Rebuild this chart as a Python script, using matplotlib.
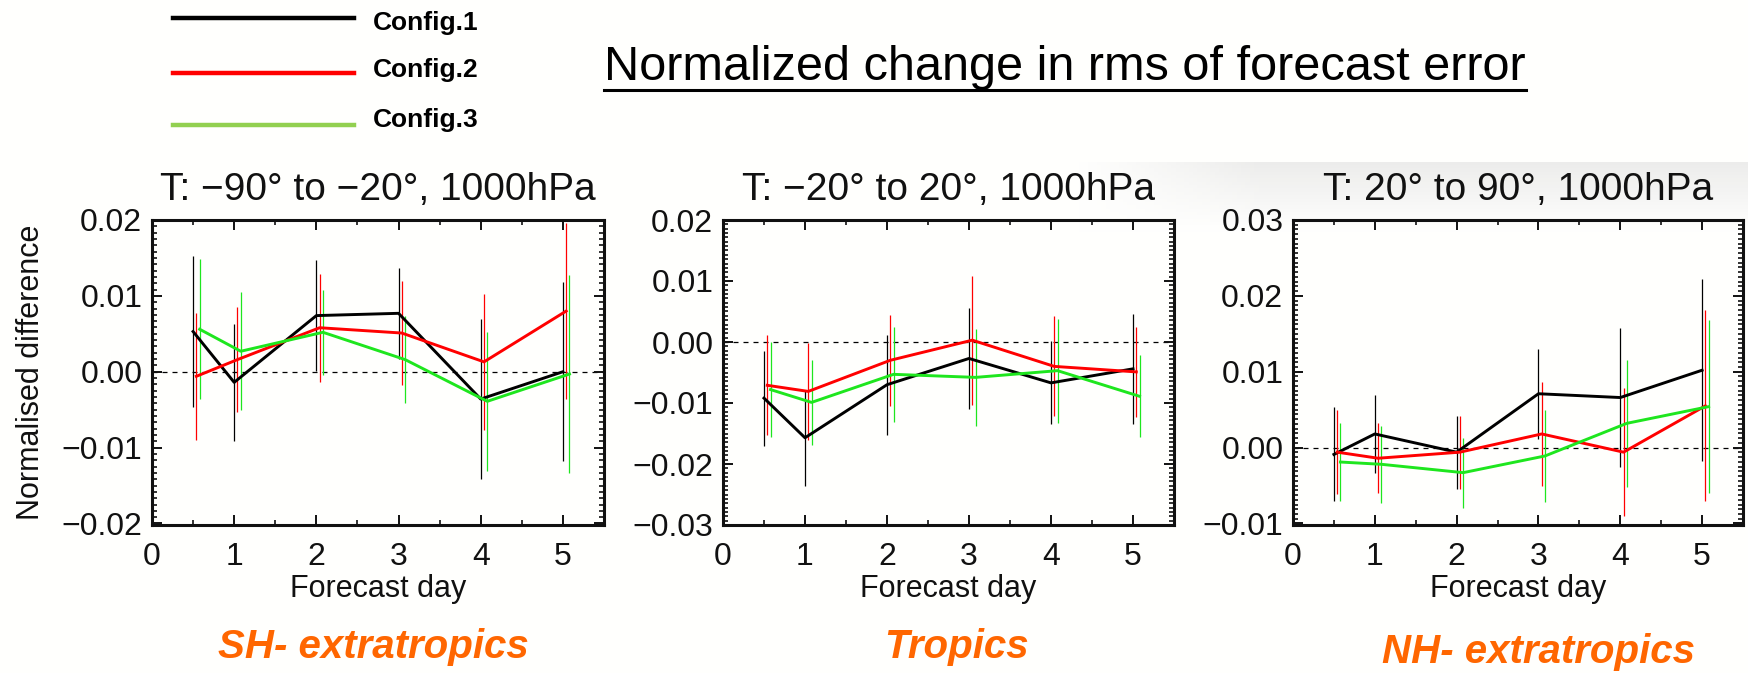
import numpy as np
import matplotlib
matplotlib.use("Agg")
import matplotlib.pyplot as plt
from matplotlib.lines import Line2D
from matplotlib.ticker import MultipleLocator, AutoMinorLocator, FuncFormatter

plt.rcParams['font.family'] = ['Liberation Sans', 'DejaVu Sans']

W, H = 1748, 673

days = [0.5, 1, 2, 3, 4, 5]

# SH extratropics
sh_c1 = [0.0053, -0.0014, 0.0074, 0.0077, -0.0036, 0.0000]
sh_e1 = [0.0100, 0.0077, 0.0073, 0.0060, 0.0105, 0.0118]
sh_c2 = [-0.0006, 0.0016, 0.0058, 0.0051, 0.0013, 0.0080]
sh_e2 = [0.0084, 0.0069, 0.0071, 0.0068, 0.0090, 0.0116]
sh_c3 = [0.0056, 0.0027, 0.0052, 0.0016, -0.0039, -0.0003]
sh_e3 = [0.0092, 0.0078, 0.0056, 0.0057, 0.0092, 0.0130]

# tropics
tr_c1 = [-0.0092, -0.0157, -0.0070, -0.0027, -0.0067, -0.0044]
tr_e1 = [0.0078, 0.0079, 0.0082, 0.0083, 0.0068, 0.0090]
tr_c2 = [-0.0071, -0.0081, -0.0030, 0.0003, -0.0040, -0.0049]
tr_e2 = [0.0082, 0.0080, 0.0075, 0.0106, 0.0082, 0.0074]
tr_c3 = [-0.0078, -0.0099, -0.0053, -0.0058, -0.0047, -0.0089]
tr_e3 = [0.0078, 0.0070, 0.0078, 0.0080, 0.0085, 0.0067]

# NH extratropics
nh_c1 = [-0.0009, 0.0018, -0.0006, 0.0071, 0.0066, 0.0102]
nh_e1 = [0.0062, 0.0051, 0.0048, 0.0059, 0.0092, 0.0120]
nh_c2 = [-0.0006, -0.0014, -0.0006, 0.0018, -0.0006, 0.0055]
nh_e2 = [0.0055, 0.0046, 0.0048, 0.0068, 0.0084, 0.0126]
nh_c3 = [-0.0019, -0.0022, -0.0033, -0.0011, 0.0032, 0.0054]
nh_e3 = [0.0051, 0.0051, 0.0046, 0.0061, 0.0084, 0.0114]

configs = ['Config.1', 'Config.2', 'Config.3']
line_colors = ['black', '#ff0000', '#1ee61e']
legend_colors = ['black', '#ff0000', '#92d050']
offsets = [0.0, 0.04, 0.08]

panel_titles = ['T: \u221290\u00b0 to \u221220\u00b0, 1000hPa',
                'T: \u221220\u00b0 to 20\u00b0, 1000hPa',
                'T: 20\u00b0 to 90\u00b0, 1000hPa']
region_names = ['SH- extratropics', 'Tropics', 'NH- extratropics']
ylims = [(-0.0202, 0.02), (-0.03, 0.02), (-0.0102, 0.03)]
minor_n = [12, 14, 16]

panels = [
    [(sh_c1, sh_e1), (sh_c2, sh_e2), (sh_c3, sh_e3)],
    [(tr_c1, tr_e1), (tr_c2, tr_e2), (tr_c3, tr_e3)],
    [(nh_c1, nh_e1), (nh_c2, nh_e2), (nh_c3, nh_e3)],
]


def fx(x):
    return x / W


def fy(y):
    return 1 - y / H


def fmt(v, pos):
    s = f'{v:.2f}'
    if s == '-0.00':
        s = '0.00'
    return s.replace('-', '\u2212')


fig = plt.figure(figsize=(W / 100, H / 100), dpi=100)

# faint grey band of the slide background, top right
bg = fig.add_axes([0, 0, 1, 1], zorder=-10)
bg.axis('off')
xx = np.linspace(0, W, 400)
yy = np.linspace(0, H, 200)
gx = np.clip((xx - 1080) / 180, 0, 1)
gy = np.where(yy < 160, 0, np.clip(1 - (yy - 160) / 70, 0, 1))
shade = 1 - 0.075 * np.outer(gy, gx)
img = np.dstack([shade, shade, shade * 0.995])
bg.imshow(img, extent=[0, W, H, 0], aspect='auto')
bg.set_xlim(0, W)
bg.set_ylim(H, 0)

lefts = [152, 723, 1293]
rights = [604, 1174, 1743]
top, bottom = 220, 525

for i in range(3):
    ax = fig.add_axes([fx(lefts[i]), fy(bottom), fx(rights[i] - lefts[i]),
                       (bottom - top) / H])
    ax.patch.set_alpha(0)
    for k, (c, e) in enumerate(panels[i]):
        xs = np.array(days) + offsets[k]
        c = np.array(c)
        e = np.array(e)
        ax.vlines(xs, c - e, c + e, color=line_colors[k], lw=0.9, zorder=2)
        ax.plot(xs, c, color=line_colors[k], lw=2.1, zorder=3)
    ax.axhline(0, color='black', lw=0.9, ls=(0, (4, 4)), zorder=1)
    ax.set_xlim(0, 5.5)
    ax.set_ylim(*ylims[i])
    ax.xaxis.set_major_locator(MultipleLocator(1))
    ax.xaxis.set_minor_locator(MultipleLocator(0.5))
    ax.yaxis.set_major_locator(MultipleLocator(0.01))
    ax.yaxis.set_minor_locator(AutoMinorLocator(minor_n[i]))
    ax.yaxis.set_major_formatter(FuncFormatter(fmt))
    ax.tick_params(which='both', direction='in', top=True, right=True,
                   labelsize=23, colors='#111111')
    ax.tick_params(which='major', length=7, width=1.4)
    ax.tick_params(which='minor', length=3.5, width=1.2)
    ax.tick_params(axis='x', pad=12)
    ax.tick_params(axis='y', pad=7)
    for sp in ax.spines.values():
        sp.set_linewidth(2.2)
        sp.set_color('#111111')
    cx = (lefts[i] + rights[i]) / 2
    fig.text(fx(cx), fy(190), panel_titles[i], ha='center', va='center',
             fontsize=28, color='#111111')
    fig.text(fx(cx), fy(589), 'Forecast day', ha='center', va='center',
             fontsize=22, color='#111111')

fig.text(fx(31), fy(372), 'Normalised difference', rotation=90,
         ha='center', va='center', fontsize=22, color='#111111')

# region labels
region_x = [373, 956, 1539]
region_y = [647, 647, 652]
for i in range(3):
    fig.text(fx(region_x[i]), fy(region_y[i]), region_names[i], ha='center',
             va='center', fontsize=29, fontweight='bold', style='italic',
             color='#ff6600')

# legend
leg_y = [18, 73, 125]
lab_y = [23, 70, 120]
for k in range(3):
    fig.add_artist(Line2D([fx(173), fx(354)], [fy(leg_y[k]), fy(leg_y[k])],
                          color=legend_colors[k], lw=3.2,
                          transform=fig.transFigure))
    fig.text(fx(373), fy(lab_y[k]), configs[k], ha='left', va='center',
             fontsize=19, fontweight='bold', color='black')

# main title with underline
t = fig.text(fx(1065), fy(68), 'Normalized change in rms of forecast error',
             ha='center', va='center', fontsize=35, color='black')
fig.canvas.draw()
bb = t.get_window_extent(renderer=fig.canvas.get_renderer())
fig.add_artist(Line2D([bb.x0 / W, bb.x1 / W], [fy(90), fy(90)], color='black',
                      lw=2.2, transform=fig.transFigure))

fig.savefig('out.png', dpi=100)
